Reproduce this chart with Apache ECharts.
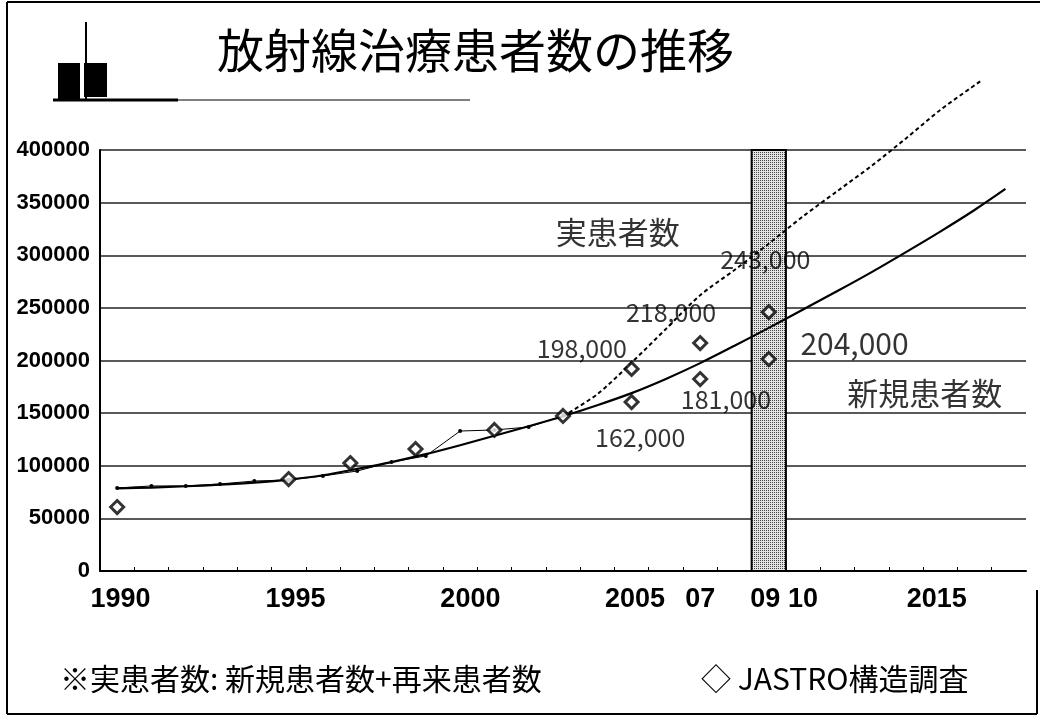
<!DOCTYPE html>
<html><head><meta charset="utf-8">
<script src="https://cdn.jsdelivr.net/npm/echarts@6/dist/echarts.min.js"></script>
<style>html,body{margin:0;padding:0;background:#fff}#c{width:1042px;height:723px}</style>
</head><body><div id="c"></div>
<script>
// ---- data ----
const xTickLabels = ['1990','1995','2000','2005','07','09','10','2015'];
const xTickLabelAt = [1990.1, 1995.2, 2000.3, 2005.1, 2007.0, 2008.9, 2010.0, 2013.9];

const newYears  = [1990,1991,1992,1993,1994,1995,1996,1997,1998,1999,2000,2001,2002,2003];
const newValues = [78900,80800,80800,82700,85500,86500,90300,95000,103600,109300,133000,134000,136800,147500];

const trendYears  = [1990,1991,1992,1993,1994,1995,1996,1997,1998,1999,2000,2001,2002,2003,2004,2005,2006,2007,2008,2009,2010,2011,2012,2013,2014,2015,2015.9];
const trendValues = [78500,79300,80500,82000,84000,86800,91000,97000,103500,111000,119500,128500,137500,147000,157500,169000,182500,197500,214000,231000,248500,266000,284000,303000,322500,343000,363000];

const totalYears  = [2003,2004,2005,2006,2007,2008,2009,2010,2011,2012,2013,2014,2015.2];
const totalValues = [147000,168000,198000,230000,262000,286000,311000,337000,361000,385000,411000,438000,466000];

const surveyYears  = [1990,1995,1996.8,1998.7,2001,2003,2005,2005,2007,2007,2009,2009];
const surveyValues = [60800,87400,102600,115900,134000,147300,192000,160500,216600,182400,246000,201400];

const shadeRange = [2008.5, 2009.5];

const annotTexts  = ['実患者数','243,000','218,000','198,000','162,000','181,000','204,000','新規患者数'];
const annotYears  = [2004.6, 2008.9, 2006.15, 2003.55, 2005.25, 2007.75, 2011.5, 2013.55];
const annotValues = [322000, 295500, 246000, 211000, 126500, 162500, 216500, 169000];

const titleText = '放射線治療患者数の推移';
const footLeft = '※実患者数: 新規患者数+再来患者数';
const footRight = '◇ JASTRO構造調査';

// ---- helpers ----
const zip = (xs, ys) => xs.map((x, i) => [x, ys[i]]);
const CJK = '"Noto Sans CJK JP", "Noto Sans", sans-serif';

const pc = document.createElement('canvas');
pc.width = 4; pc.height = 4;
const pctx = pc.getContext('2d');
pctx.fillStyle = '#e4e4e4'; pctx.fillRect(0,0,4,4);
pctx.fillStyle = '#444';
pctx.fillRect(0,0,1,1); pctx.fillRect(2,2,1,1); pctx.fillRect(2,0,1,1); pctx.fillRect(0,2,1,1);

const halfTicks = [];
for (let y = 1990; y <= 2015; y++) halfTicks.push(y + 0.5);

const chart = echarts.init(document.getElementById('c'), null, {renderer: 'canvas'});
const isCJK = s => /[\u3000-\u9fff]/.test(s);

chart.setOption({
  animation: false,
  backgroundColor: '#fff',
  grid: {left: 100, right: 16, top: 150, bottom: 152},
  xAxis: {
    type: 'value', min: 1989.5, max: 2016.5,
    axisLine: {show: true, onZero: false, lineStyle: {color: '#000', width: 2}},
    axisTick: {show: true, inside: true, length: 4, customValues: halfTicks, lineStyle: {color: '#000', width: 1}},
    splitLine: {show: false},
    axisLabel: {
      customValues: xTickLabelAt,
      margin: 15,
      color: '#000',
      fontFamily: '"Liberation Sans", Arial, sans-serif',
      fontWeight: 'bold',
      fontSize: 27,
      formatter: v => {
        let best = -1, bd = 1e9;
        xTickLabelAt.forEach((p, i) => { const d = Math.abs(p - v); if (d < bd) { bd = d; best = i; } });
        return bd < 0.05 ? xTickLabels[best] : '';
      }
    }
  },
  yAxis: {
    type: 'value', min: 0, max: 400000, interval: 50000,
    axisLine: {show: true, lineStyle: {color: '#000', width: 2}},
    axisTick: {show: false},
    splitLine: {show: true, lineStyle: {color: '#222', width: 1.6}},
    axisLabel: {
      margin: 10, color: '#000',
      fontFamily: '"Liberation Sans", Arial, sans-serif',
      fontWeight: 'bold', fontSize: 22,
      padding: [10, 0, 0, 0],
      formatter: v => String(v)
    }
  },
  series: [
    {
      type: 'line', name: 'shade', data: [], silent: true,
      markArea: {
        silent: true,
        itemStyle: {color: {image: pc, repeat: 'repeat'}, borderColor: '#000', borderWidth: 2},
        data: [[{xAxis: shadeRange[0]}, {xAxis: shadeRange[1]}]]
      },
      z: 1
    },
    {
      type: 'line', name: '実患者数', data: zip(totalYears, totalValues),
      smooth: 0.3, clip: false, showSymbol: false,
      lineStyle: {color: '#000', width: 2, type: [4, 3]}, z: 3
    },
    {
      type: 'line', name: '新規患者数 trend', data: zip(trendYears, trendValues),
      smooth: 0.3, clip: false, showSymbol: false,
      lineStyle: {color: '#000', width: 2.2}, z: 3
    },
    {
      type: 'line', name: '新規患者数', data: zip(newYears, newValues),
      symbol: 'circle', symbolSize: 4, showSymbol: true,
      itemStyle: {color: '#000'},
      lineStyle: {color: '#000', width: 1}, z: 4
    },
    {
      type: 'scatter', name: 'JASTRO', data: zip(surveyYears, surveyValues),
      symbol: 'diamond', symbolSize: 13,
      itemStyle: {color: '#fff', borderColor: '#000', borderWidth: 3}, z: 5
    },
    {
      type: 'scatter', name: 'annot', silent: true, symbolSize: 0,
      data: annotTexts.map((t, i) => ({
        name: t, value: [annotYears[i], annotValues[i]],
        label: {fontSize: isCJK(t) ? 31 : (t === '204,000' ? 30 : 25)}
      })),
      label: {
        show: true, position: 'inside', formatter: p => p.name,
        color: '#000', fontFamily: CJK
      },
      z: 6
    }
  ],
  graphic: [
    {type: 'line', shape: {x1: 7, y1: 2, x2: 1040, y2: 2}, style: {stroke: '#000', lineWidth: 2}},
    {type: 'line', shape: {x1: 7, y1: 2, x2: 7, y2: 714}, style: {stroke: '#000', lineWidth: 2}},
    {type: 'line', shape: {x1: 7, y1: 714, x2: 1037, y2: 714}, style: {stroke: '#000', lineWidth: 2}},
    {type: 'line', shape: {x1: 1037, y1: 590, x2: 1037, y2: 714}, style: {stroke: '#000', lineWidth: 2}},
    {type: 'rect', shape: {x: 58, y: 63, width: 22, height: 37}, style: {fill: '#000'}},
    {type: 'rect', shape: {x: 84, y: 63, width: 23, height: 34}, style: {fill: '#000'}},
    {type: 'line', shape: {x1: 86, y1: 22, x2: 86, y2: 100}, style: {stroke: '#000', lineWidth: 2}},
    {type: 'line', shape: {x1: 53, y1: 100, x2: 178, y2: 100}, style: {stroke: '#000', lineWidth: 3}},
    {type: 'line', shape: {x1: 178, y1: 100, x2: 470, y2: 100}, style: {stroke: '#555', lineWidth: 1.5}},
    {type: 'text', x: 217, y: 50, style: {text: titleText, fill: '#000', font: '47px "Noto Sans CJK JP", sans-serif', verticalAlign: 'middle', align: 'left'}},
    {type: 'text', x: 60, y: 679, style: {text: footLeft, fill: '#000', font: '30px "Noto Sans CJK JP", sans-serif', verticalAlign: 'middle', align: 'left'}},
    {type: 'text', x: 701, y: 679, style: {text: footRight, fill: '#000', font: '30px "Noto Sans CJK JP", sans-serif', verticalAlign: 'middle', align: 'left'}}
  ]
});
</script></body></html>
